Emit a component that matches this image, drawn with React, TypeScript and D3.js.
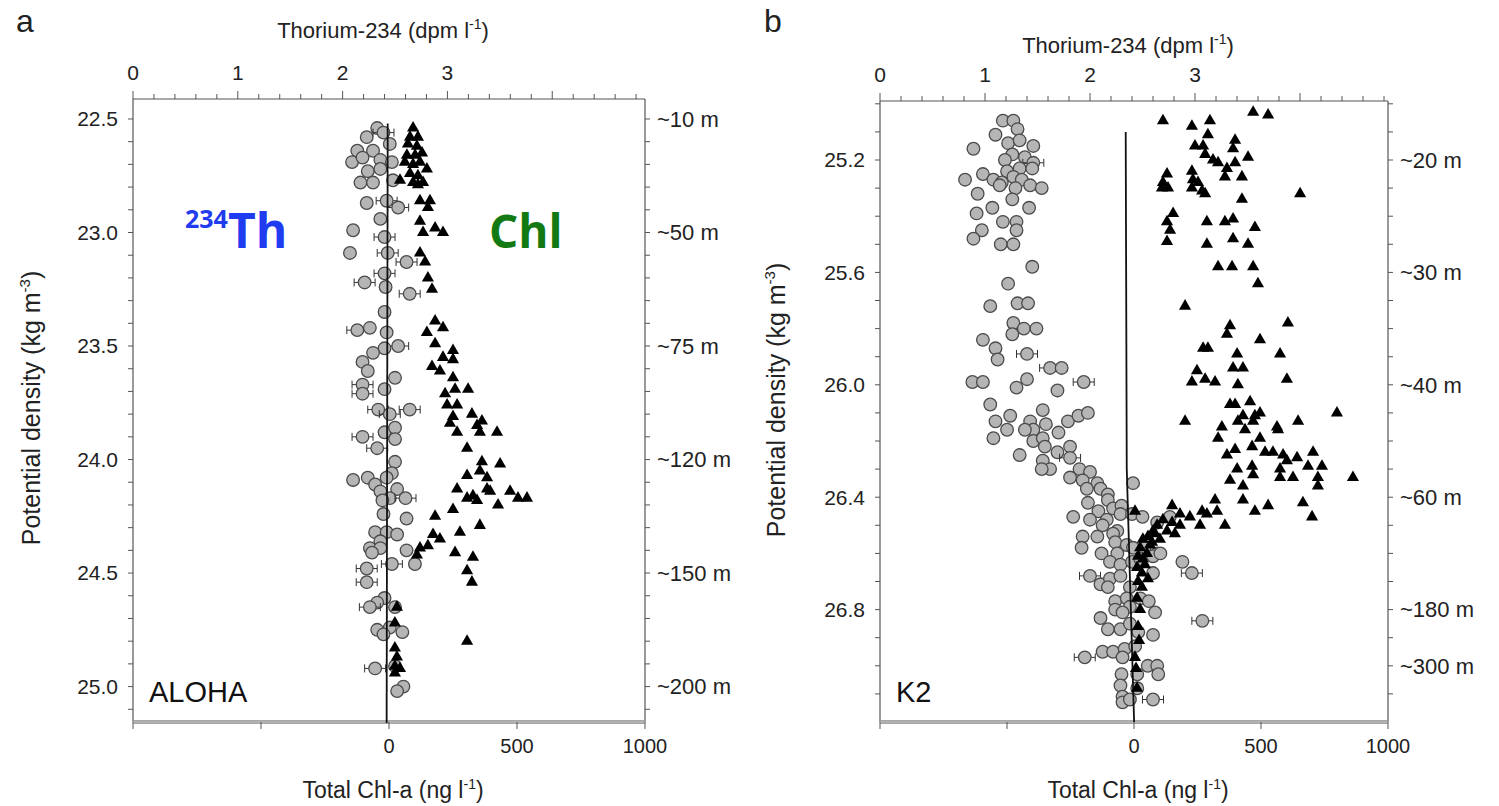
import React from "react";
import * as d3 from "d3";

// [234Th dpm/l, potential density, error half-width (0 = none)]
const alohaTh: [number, number, number][] = [
  [2.33, 22.54, 0], [2.23, 22.58, 0], [2.39, 22.56, 0.1], [2.14, 22.64, 0], [2.29, 22.64, 0],
  [2.45, 22.61, 0], [2.09, 22.69, 0], [2.19, 22.67, 0], [2.36, 22.68, 0], [2.47, 22.69, 0],
  [2.24, 22.73, 0], [2.36, 22.72, 0], [2.17, 22.78, 0], [2.29, 22.78, 0], [2.48, 22.77, 0],
  [2.23, 22.87, 0], [2.42, 22.86, 0.1], [2.53, 22.89, 0.1], [2.36, 22.94, 0], [2.1, 22.99, 0],
  [2.4, 23.02, 0.1], [2.07, 23.09, 0], [2.43, 23.09, 0.1], [2.61, 23.13, 0.1], [2.4, 23.18, 0.1],
  [2.21, 23.22, 0.1], [2.41, 23.24, 0], [2.64, 23.27, 0.1], [2.4, 23.35, 0], [2.14, 23.43, 0.1],
  [2.26, 23.42, 0], [2.42, 23.44, 0], [2.53, 23.5, 0.1], [2.4, 23.51, 0], [2.29, 23.53, 0],
  [2.19, 23.57, 0], [2.24, 23.61, 0], [2.5, 23.64, 0], [2.19, 23.67, 0.1], [2.19, 23.71, 0.1],
  [2.4, 23.69, 0], [2.34, 23.78, 0.1], [2.45, 23.8, 0.1], [2.64, 23.78, 0.1], [2.19, 23.9, 0.1],
  [2.4, 23.88, 0], [2.5, 23.86, 0], [2.5, 23.91, 0], [2.33, 23.95, 0.1], [2.5, 24.01, 0],
  [2.47, 24.06, 0], [2.1, 24.09, 0], [2.24, 24.08, 0], [2.31, 24.11, 0], [2.42, 24.08, 0],
  [2.36, 24.14, 0], [2.52, 24.13, 0], [2.45, 24.17, 0], [2.6, 24.17, 0.1], [2.38, 24.18, 0],
  [2.39, 24.24, 0], [2.61, 24.26, 0], [2.31, 24.32, 0], [2.42, 24.32, 0], [2.52, 24.33, 0],
  [2.36, 24.36, 0], [2.26, 24.39, 0], [2.36, 24.39, 0], [2.28, 24.41, 0], [2.61, 24.4, 0],
  [2.69, 24.46, 0], [2.47, 24.46, 0.1], [2.23, 24.48, 0.1], [2.23, 24.54, 0.1], [2.4, 24.61, 0],
  [2.33, 24.63, 0], [2.26, 24.65, 0.1], [2.5, 24.65, 0], [2.33, 24.75, 0], [2.45, 24.74, 0],
  [2.57, 24.76, 0], [2.39, 24.77, 0], [2.31, 24.92, 0.1], [2.5, 24.91, 0], [2.58, 25.0, 0],
  [2.52, 25.02, 0],
];

// [total Chl-a ng/l, potential density]
const alohaChl: [number, number][] = [
  [94, 22.54], [82, 22.58], [113, 22.58], [74, 22.61], [109, 22.62], [70, 22.66], [102, 22.66],
  [129, 22.65], [62, 22.69], [94, 22.7], [121, 22.69], [148, 22.72], [82, 22.74], [113, 22.75],
  [43, 22.77], [94, 22.78], [133, 22.78], [113, 22.79], [121, 22.86], [160, 22.86], [152, 22.89],
  [121, 22.95], [180, 22.98], [211, 23.0], [133, 23.0], [121, 23.09], [141, 23.13], [152, 23.2],
  [168, 23.25], [180, 23.39], [148, 23.44], [211, 23.42], [180, 23.49], [250, 23.52], [211, 23.55],
  [168, 23.59], [199, 23.61], [250, 23.56], [250, 23.64], [219, 23.71], [258, 23.69], [309, 23.69],
  [227, 23.76], [266, 23.76], [324, 23.8], [363, 23.83], [250, 23.81], [238, 23.84], [266, 23.88],
  [344, 23.85], [355, 23.88], [422, 23.88], [305, 23.95], [363, 24.01], [434, 24.02], [305, 24.07],
  [355, 24.05], [383, 24.08], [266, 24.13], [328, 24.16], [383, 24.13], [305, 24.17], [344, 24.18],
  [395, 24.14], [426, 24.2], [473, 24.14], [504, 24.17], [539, 24.17], [250, 24.22], [180, 24.25],
  [355, 24.29], [277, 24.32], [172, 24.33], [199, 24.35], [152, 24.38], [121, 24.39], [109, 24.42],
  [258, 24.41], [328, 24.43], [305, 24.49], [324, 24.54], [31, 24.65], [23, 24.72], [305, 24.8],
  [23, 24.83], [31, 24.87], [23, 24.91], [43, 24.92], [23, 24.94],
];

// 238U line [dpm/l, density]
const alohaU: [number, number][] = [[2.43, 22.52], [2.42, 25.16]];

const k2Th: [number, number, number][] = [
  [1.17, 25.06, 0], [1.27, 25.06, 0], [1.31, 25.09, 0], [1.1, 25.11, 0], [1.22, 25.14, 0],
  [1.33, 25.13, 0], [1.46, 25.15, 0], [0.89, 25.16, 0], [1.26, 25.18, 0], [1.19, 25.2, 0],
  [1.38, 25.19, 0], [1.46, 25.21, 0.1], [1.21, 25.24, 0], [1.33, 25.23, 0], [1.45, 25.23, 0],
  [0.81, 25.27, 0], [0.98, 25.25, 0], [1.08, 25.27, 0], [1.16, 25.28, 0], [1.27, 25.26, 0],
  [1.35, 25.27, 0], [1.43, 25.29, 0], [1.54, 25.3, 0], [1.14, 25.29, 0], [1.29, 25.3, 0],
  [0.93, 25.32, 0], [1.26, 25.34, 0], [1.07, 25.37, 0], [1.42, 25.37, 0], [0.92, 25.39, 0],
  [1.17, 25.42, 0], [1.3, 25.42, 0], [1.3, 25.45, 0], [0.97, 25.45, 0], [0.89, 25.48, 0],
  [1.15, 25.5, 0], [1.27, 25.5, 0], [1.45, 25.58, 0], [1.22, 25.64, 0], [1.05, 25.72, 0],
  [1.31, 25.71, 0], [1.41, 25.71, 0], [1.27, 25.78, 0], [1.37, 25.8, 0], [1.49, 25.8, 0],
  [0.98, 25.84, 0], [1.26, 25.82, 0], [1.1, 25.87, 0], [1.12, 25.91, 0], [1.4, 25.89, 0.1],
  [1.62, 25.94, 0.1], [1.73, 25.94, 0], [0.88, 25.99, 0], [0.98, 25.99, 0], [1.3, 26.01, 0],
  [1.4, 25.98, 0], [1.69, 26.02, 0], [1.94, 25.99, 0.1], [1.05, 26.07, 0], [1.1, 26.13, 0],
  [1.24, 26.11, 0], [1.21, 26.16, 0], [1.08, 26.19, 0], [1.43, 26.13, 0], [1.55, 26.09, 0],
  [1.58, 26.14, 0], [1.46, 26.16, 0], [1.38, 26.16, 0], [1.79, 26.13, 0], [1.89, 26.11, 0],
  [1.98, 26.1, 0], [1.7, 26.17, 0], [1.46, 26.2, 0], [1.55, 26.19, 0], [1.33, 26.25, 0],
  [1.57, 26.22, 0], [1.69, 26.24, 0], [1.81, 26.22, 0], [1.81, 26.26, 0.1], [1.55, 26.27, 0],
  [1.62, 26.3, 0], [1.54, 26.3, 0], [1.9, 26.3, 0], [2.0, 26.31, 0], [1.81, 26.33, 0],
  [1.93, 26.34, 0], [2.07, 26.35, 0], [1.97, 26.37, 0], [2.1, 26.37, 0], [2.17, 26.39, 0],
  [1.98, 26.42, 0], [2.08, 26.45, 0], [2.17, 26.41, 0], [2.22, 26.44, 0], [2.3, 26.43, 0],
  [1.84, 26.47, 0], [2.0, 26.48, 0], [2.16, 26.48, 0], [2.29, 26.46, 0], [2.4, 26.46, 0],
  [2.41, 26.35, 0], [2.5, 26.47, 0], [2.64, 26.49, 0], [2.76, 26.47, 0], [2.12, 26.5, 0],
  [2.26, 26.52, 0], [1.93, 26.54, 0], [2.07, 26.54, 0], [2.22, 26.53, 0], [1.92, 26.58, 0],
  [2.11, 26.6, 0], [2.24, 26.56, 0], [2.35, 26.57, 0], [2.26, 26.6, 0], [2.41, 26.58, 0],
  [2.52, 26.58, 0], [2.64, 26.6, 0], [2.19, 26.63, 0], [2.29, 26.64, 0], [2.4, 26.63, 0],
  [2.48, 26.62, 0], [2.6, 26.61, 0], [2.67, 26.6, 0], [2.6, 26.67, 0], [2.88, 26.63, 0],
  [2.97, 26.67, 0.1], [2.0, 26.68, 0.1], [2.1, 26.71, 0], [2.19, 26.69, 0], [2.29, 26.68, 0],
  [2.38, 26.72, 0], [2.17, 26.72, 0], [2.24, 26.77, 0], [2.35, 26.76, 0], [2.48, 26.76, 0],
  [2.56, 26.77, 0], [2.24, 26.8, 0], [2.38, 26.79, 0], [2.31, 26.81, 0], [2.62, 26.81, 0],
  [2.1, 26.83, 0], [2.17, 26.87, 0], [2.29, 26.87, 0], [2.38, 26.85, 0], [2.46, 26.88, 0],
  [2.6, 26.89, 0], [3.07, 26.84, 0.1], [1.95, 26.97, 0.1], [2.12, 26.95, 0], [2.22, 26.95, 0],
  [2.33, 26.94, 0], [2.43, 26.93, 0], [2.31, 26.97, 0], [2.55, 27.0, 0], [2.64, 27.0, 0],
  [2.65, 27.03, 0], [2.3, 27.03, 0], [2.45, 27.03, 0], [2.29, 27.07, 0], [2.45, 27.08, 0],
  [2.31, 27.11, 0], [2.31, 27.13, 0], [2.6, 27.12, 0.1], [2.38, 27.12, 0],
];

const k2Chl: [number, number][] = [
  [114, 25.06], [228, 25.08], [299, 25.06], [469, 25.03], [528, 25.04], [291, 25.11], [398, 25.13],
  [240, 25.15], [272, 25.15], [390, 25.16], [280, 25.18], [311, 25.2], [449, 25.19], [331, 25.21],
  [366, 25.23], [398, 25.21], [130, 25.25], [228, 25.24], [425, 25.26], [358, 25.26], [114, 25.28],
  [232, 25.27], [252, 25.28], [110, 25.3], [134, 25.3], [228, 25.3], [268, 25.31], [280, 25.32],
  [654, 25.32], [425, 25.34], [154, 25.39], [130, 25.42], [142, 25.45], [287, 25.42], [358, 25.42],
  [390, 25.41], [476, 25.44], [130, 25.49], [287, 25.5], [390, 25.48], [449, 25.5], [331, 25.58],
  [386, 25.58], [469, 25.58], [488, 25.64], [201, 25.72], [606, 25.78], [378, 25.79], [366, 25.82],
  [496, 25.84], [272, 25.87], [291, 25.87], [406, 25.89], [575, 25.89], [248, 25.95], [390, 25.94],
  [429, 25.94], [228, 25.99], [280, 25.98], [319, 25.99], [409, 26.0], [602, 25.98],
  [378, 26.07], [398, 26.07], [457, 26.06], [799, 26.1], [201, 26.13], [429, 26.11], [476, 26.11],
  [496, 26.1], [409, 26.13], [469, 26.13], [646, 26.13], [437, 26.16], [346, 26.15], [331, 26.19],
  [496, 26.19], [563, 26.15], [567, 26.16], [398, 26.23], [465, 26.22], [366, 26.25], [516, 26.24],
  [547, 26.24], [587, 26.25], [642, 26.26], [602, 26.27], [705, 26.24], [685, 26.29], [740, 26.29],
  [406, 26.3], [465, 26.29], [469, 26.32], [575, 26.3], [626, 26.33], [575, 26.33], [724, 26.33],
  [862, 26.33], [378, 26.34], [429, 26.36], [724, 26.36],
  [429, 26.41], [528, 26.43], [476, 26.45], [665, 26.42], [701, 26.47], [150, 26.43], [268, 26.45],
  [319, 26.41], [327, 26.45], [287, 26.46], [220, 26.47], [181, 26.46], [181, 26.5], [260, 26.5],
  [358, 26.5], [150, 26.49], [114, 26.48], [91, 26.5], [130, 26.52], [161, 26.53], [75, 26.52],
  [55, 26.54], [35, 26.55], [71, 26.56], [24, 26.58], [51, 26.6], [16, 26.61], [35, 26.62],
  [12, 26.65], [31, 26.67], [16, 26.7], [31, 26.72], [12, 26.76], [16, 26.86], [4, 26.97],
  [12, 27.08], [4, 26.45], [63, 26.57], [83, 26.53], [43, 26.64], [102, 26.55], [55, 26.69],
  [24, 26.8], [20, 26.91], [8, 27.01],
];

const k2U: [number, number][] = [[2.34, 25.1], [2.35, 26.3], [2.42, 27.2]];

const thLabels = [0, 1, 2, 3];
const chlTicks = [-1000, -500, 0, 500, 1000];
const chlLabels = [0, 500, 1000];

const alohaDensLabels = [22.5, 23.0, 23.5, 24.0, 24.5, 25.0];
const alohaDepths: [number, string][] = [
  [22.5, "~10 m"], [23.0, "~50 m"], [23.5, "~75 m"], [24.0, "~120 m"], [24.5, "~150 m"], [25.0, "~200 m"],
];
const k2DensLabels = [25.2, 25.6, 26.0, 26.4, 26.8];
const k2Depths: [number, string][] = [
  [25.2, "~20 m"], [25.6, "~30 m"], [26.0, "~40 m"], [26.4, "~60 m"], [26.8, "~180 m"], [27.0, "~300 m"],
];

const FONT = "'Liberation Sans', Arial, sans-serif";

interface PanelProps {
  left: number;
  right: number;
  top: number;
  bottom: number;
  dens: [number, number];
  thMax: number;
  densLabels: number[];
  densTicks: [number, number];
  depths: [number, string][];
  th: [number, number, number][];
  chl: [number, number][];
  u: [number, number][];
  letter: string;
  letterX: number;
  site: string;
  thTitleY: number;
  densTitleX: number;
  densTitleY: number;
}

function Panel(p: PanelProps) {
  const xTh = d3.scaleLinear().domain([0, p.thMax]).range([p.left, p.right]);
  const xChl = d3.scaleLinear().domain([-1000, 1000]).range([p.left, p.right]);
  const y = d3.scaleLinear().domain(p.dens).range([p.top, p.bottom]);
  const thMinor = d3.range(0, Math.floor(p.thMax * 5) + 1).map((i) => i / 5);
  const dTicks = d3
    .range(Math.round(p.densTicks[0] * 10), Math.round(p.densTicks[1] * 10) + 1)
    .map((v) => v / 10);
  const uLine = d3.line<[number, number]>().x((d) => xTh(d[0])).y((d) => y(d[1]));
  const tri = d3.symbol().type(d3.symbolTriangle).size(64)() as string;
  const cx = (p.left + p.right) / 2;
  const frame = "#555";

  return (
    <g fontFamily={FONT}>
      <text x={p.letterX} y={32} fontSize={32} fill="#222">{p.letter}</text>
      <text x={cx - 6} y={p.thTitleY} fontSize={22} textAnchor="middle" fill="#222">
        Thorium-234 (dpm l<tspan dy={-9} fontSize={14}>-1</tspan><tspan dy={9}>)</tspan>
      </text>

      {/* frame */}
      <line x1={p.left} x2={p.right} y1={p.top} y2={p.top} stroke={frame} strokeWidth={1.2} />
      <line x1={p.left} x2={p.left} y1={p.top} y2={p.bottom} stroke={frame} strokeWidth={1.2} />
      <line x1={p.right} x2={p.right} y1={p.top} y2={p.bottom} stroke={frame} strokeWidth={1.2} />
      <line x1={p.left} x2={p.right} y1={p.bottom} y2={p.bottom} stroke="#8a8a8a" strokeWidth={3.5} />
      <line x1={p.left} x2={p.right} y1={p.bottom} y2={p.bottom} stroke="#d8d8d8" strokeWidth={1} />

      {/* top thorium axis */}
      {thMinor.map((t) => {
        const major = Math.abs(t - Math.round(t)) < 1e-6;
        return (
          <line key={"tt" + t} x1={xTh(t)} x2={xTh(t)} y1={p.top} y2={p.top - (major ? 8 : 5)} stroke={frame} strokeWidth={1} />
        );
      })}
      {thLabels.map((t) => (
        <text key={"tl" + t} x={xTh(t)} y={p.top - 19} fontSize={21} textAnchor="middle" fill="#222">{t}</text>
      ))}

      {/* bottom chl axis */}
      {chlTicks.map((c) => (
        <line key={"ct" + c} x1={xChl(c)} x2={xChl(c)} y1={p.bottom} y2={p.bottom + 7} stroke={frame} strokeWidth={1} />
      ))}
      {chlLabels.map((c) => (
        <text key={"cl" + c} x={xChl(c)} y={753} fontSize={20} textAnchor="middle" fill="#222">{c}</text>
      ))}
      <text x={cx + 4} y={798} fontSize={23} textAnchor="middle" fill="#222">
        Total Chl-a (ng l<tspan dy={-9} fontSize={14}>-1</tspan><tspan dy={9}>)</tspan>
      </text>

      {/* left density axis */}
      {dTicks.map((d) => (
        <line key={"dl" + d} x1={p.left} x2={p.left - 5} y1={y(d)} y2={y(d)} stroke={frame} strokeWidth={1} />
      ))}
      {p.densLabels.map((d) => (
        <text key={"dt" + d} x={p.left - 15} y={y(d)} dy="0.35em" fontSize={21} textAnchor="end" fill="#222">
          {d.toFixed(1)}
        </text>
      ))}
      <text
        transform={`translate(${p.densTitleX},${p.densTitleY}) rotate(-90)`}
        fontSize={25}
        textAnchor="middle"
        fill="#222"
      >
        Potential density (kg m<tspan dy={-10} fontSize={15}>-3</tspan><tspan dy={10}>)</tspan>
      </text>

      {/* right depth axis */}
      {dTicks.map((d) => (
        <line key={"dr" + d} x1={p.right} x2={p.right + 5} y1={y(d)} y2={y(d)} stroke={frame} strokeWidth={1} />
      ))}
      {p.depths.map(([d, s]) => (
        <text key={"dp" + s} x={p.right + 12} y={y(d)} dy="0.35em" fontSize={22} fill="#222">{s}</text>
      ))}

      {/* thorium circles */}
      {p.th.map(([t, d, e], i) => (
        <g key={"c" + i}>
          {e > 0 && (
            <g stroke="#333" strokeWidth={1}>
              <line x1={xTh(t - e)} x2={xTh(t + e)} y1={y(d)} y2={y(d)} />
              <line x1={xTh(t - e)} x2={xTh(t - e)} y1={y(d) - 4} y2={y(d) + 4} />
              <line x1={xTh(t + e)} x2={xTh(t + e)} y1={y(d) - 4} y2={y(d) + 4} />
            </g>
          )}
          <circle cx={xTh(t)} cy={y(d)} r={6.3} fill="#b5b5b5" stroke="#4a4a4a" strokeWidth={1.3} />
        </g>
      ))}

      {/* 238U line */}
      <path d={uLine(p.u) as string} fill="none" stroke="#111" strokeWidth={1.8} />

      {/* chl triangles */}
      {p.chl.map(([c, d], i) => (
        <path key={"t" + i} d={tri} transform={`translate(${xChl(c)},${y(d)})`} fill="#000" />
      ))}

      <text x={p.left + 16} y={702} fontSize={29} fill="#111">{p.site}</text>
    </g>
  );
}

export default function App() {
  return (
    <svg
      width={1499}
      height={806}
      style={{ position: "absolute", left: 0, top: 0, background: "#fff" }}
    >
      <rect width={1499} height={806} fill="#fff" />
      <Panel
        left={133}
        right={645}
        top={99}
        bottom={722}
        dens={[22.412, 25.156]}
        thMax={4.885}
        densLabels={alohaDensLabels}
        densTicks={[22.5, 25.1]}
        depths={alohaDepths}
        th={alohaTh}
        chl={alohaChl}
        u={alohaU}
        letter="a"
        letterX={16}
        site="ALOHA"
        thTitleY={38}
        densTitleX={40}
        densTitleY={408}
      />
      <Panel
        left={880}
        right={1388}
        top={101}
        bottom={722}
        dens={[24.99, 27.2]}
        thMax={4.838}
        densLabels={k2DensLabels}
        densTicks={[25.0, 27.1]}
        depths={k2Depths}
        th={k2Th}
        chl={k2Chl}
        u={k2U}
        letter="b"
        letterX={764}
        site="K2"
        thTitleY={53}
        densTitleX={785}
        densTitleY={400}
      />
      <g fontFamily="'Open Sans', 'Noto Sans', sans-serif" fontWeight={700}>
        <text x={185} y={248} fontSize={48} fill="#1f3cf0">
          <tspan fontSize={25} dy={-20}>234</tspan>
          <tspan dy={20}>Th</tspan>
        </text>
        <text x={489} y={248} fontSize={46} fill="#137a13">Chl</text>
      </g>
    </svg>
  );
}
